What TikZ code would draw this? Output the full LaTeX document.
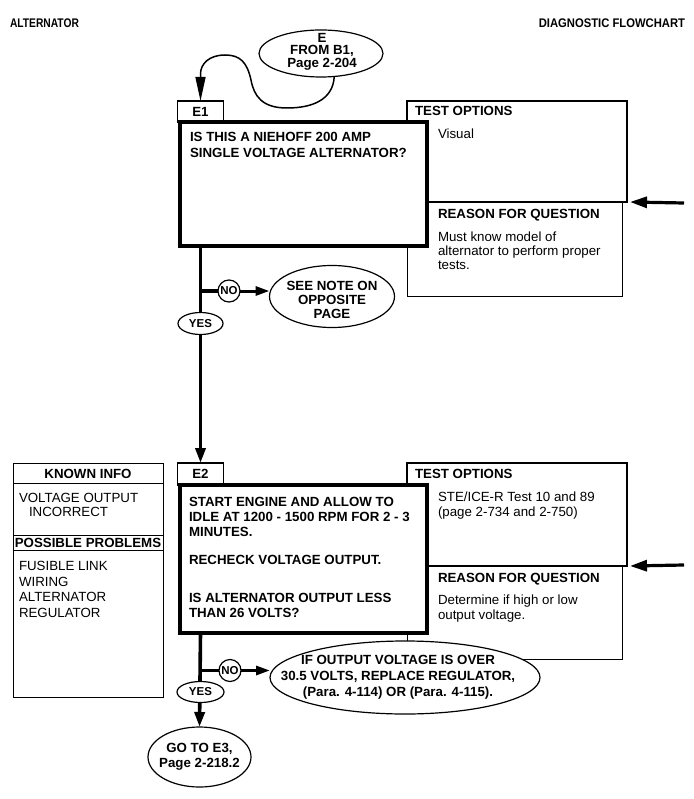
\documentclass[tikz,border=0pt]{standalone}
\usepackage{fontspec}
\setmainfont{Liberation Sans}
\usetikzlibrary{shapes.geometric,arrows.meta,calc,backgrounds}
\begin{document}
\begin{tikzpicture}[x=1pt,y=-1pt,
  every node/.style={inner sep=0pt,outer sep=0pt},
  txtbf/.style={font=\fontsize{13.3}{15}\selectfont\bfseries},
  txtrm/.style={font=\fontsize{13.3}{15}\selectfont},
  smallbf/.style={font=\fontsize{11.5}{13}\selectfont\bfseries},
  hdr/.style={font=\fontsize{12.5}{14}\selectfont\bfseries},
  tabbox/.style={draw,rectangle,line width=1.1pt,anchor=north west,fill=white},
  qbox/.style={draw,rectangle,line width=3.6pt,anchor=north west,fill=white},
  tbox/.style={draw,rectangle,line width=2.6pt,anchor=north west},
  rbox/.style={draw,rectangle,line width=0.9pt,anchor=north west},
  kbox/.style={draw,rectangle,line width=0.9pt,anchor=north west},
  ell/.style={draw,ellipse,line width=1.2pt,fill=white},
  yesell/.style={draw,ellipse,line width=1.2pt,fill=white,minimum width=45pt,minimum height=22pt,smallbf},
  nocirc/.style={draw,circle,line width=1.2pt,fill=white,minimum size=22pt,smallbf},
  flow/.style={line width=3.6pt},
  flowarr/.style={line width=3.6pt,-{Triangle[length=15pt,width=10pt]}},
  noarr/.style={line width=3pt,-{Triangle[length=14pt,width=9pt]}},
  inarr/.style={line width=3.2pt,-{Triangle[length=17pt,width=11pt]}},
  curvearr/.style={line width=1.5pt,-{Triangle[length=24pt,width=10pt]}},
  rule/.style={line width=0.9pt}
]
\useasboundingbox (0,0) rectangle (693,799);

% header
\node[hdr,anchor=base west] (hl) at (10,28) {\scalebox{0.82}[1]{ALTERNATOR}};
\node[hdr,anchor=base east] (hr) at (685,28) {\scalebox{0.9}[1]{DIAGNOSTIC FLOWCHART}};

% entry ellipse
\node[ell,minimum width=124pt,minimum height=47pt] (Eell) at (321,53.5) {};
\node[align=center,font=\fontsize{13.3}{12.5}\selectfont\bfseries] (Etxt) at (322,51.5) {E\\FROM B1,\\Page 2-204};

% ---------- E1 ----------
\node[tbox,minimum width=220pt,minimum height=101pt] (T1) at (407,101) {};
\node[rbox,minimum width=215pt,minimum height=94pt] (R1) at (407,202) {};
\node[tabbox,minimum width=46pt,minimum height=21pt] (E1tab) at (177.5,101) {};
\node[qbox,minimum width=247pt,minimum height=124pt] (E1box) at (180,122) {};
\node[txtbf] (E1lab) at (E1tab) {E1};
\node[txtbf,anchor=north west,align=left,font=\fontsize{13.3}{16}\selectfont\bfseries] (E1q) at (190,132.5)
  {IS THIS A NIEHOFF 200 AMP\\SINGLE VOLTAGE ALTERNATOR?};
\node[txtbf,anchor=base west] (T1h) at (415,116) {TEST OPTIONS};
\node[txtrm,anchor=base west] (T1t) at (438,138.5) {Visual};
\node[txtbf,anchor=base west] (R1h) at (438,219) {REASON FOR QUESTION};
\node[anchor=north west,align=left,font=\fontsize{13.3}{13.7}\selectfont] (R1t) at (438,232)
  {Must know model of\\alternator to perform proper\\tests.};

\node[yesell] (YES1) at (200.5,323.5) {YES};
\node[nocirc] (NO1) at (229,291) {NO};
\node[ell,minimum width=125pt,minimum height=62pt] (SEE) at (332,296.5) {};
\node[align=center,font=\fontsize{13.3}{14}\selectfont\bfseries] (SEEt) at (332,300) {SEE NOTE ON\\OPPOSITE\\PAGE};

% ---------- E2 ----------
\node[kbox,minimum width=150pt,minimum height=234pt] (KI) at (13,463) {};
\draw[rule] ($(KI.north west)+(0,20)$) -- ($(KI.north east)+(0,20)$);
\draw[rule] ($(KI.north west)+(0,72)$) -- ($(KI.north east)+(0,72)$);
\draw[rule] ($(KI.north west)+(0,87)$) -- ($(KI.north east)+(0,87)$);
\node[txtbf,anchor=base] (KIh) at (88,478.8) {KNOWN INFO};
\node[anchor=north west,align=left,font=\fontsize{13.3}{14}\selectfont] (KIt) at (19,493.2)
  {VOLTAGE OUTPUT\\\hspace*{10pt}INCORRECT};
\node[txtbf,anchor=base] (PPh) at (88,547.6) {POSSIBLE PROBLEMS};
\node[anchor=north west,align=left,font=\fontsize{13.3}{15.6}\selectfont] (PPt) at (19,561.2)
  {FUSIBLE LINK\\WIRING\\ALTERNATOR\\REGULATOR};

\node[tbox,minimum width=220pt,minimum height=103pt] (T2) at (407,463) {};
\node[rbox,minimum width=215pt,minimum height=93pt] (R2) at (407,566) {};
\node[tabbox,minimum width=46pt,minimum height=22pt] (E2tab) at (177.5,463) {};
\node[qbox,minimum width=247pt,minimum height=148pt] (E2box) at (180,485) {};
\node[txtbf] (E2lab) at (E2tab) {E2};
\node[txtbf,anchor=north west,align=left] (E2q) at (189,497.5)
  {START ENGINE AND ALLOW TO\\IDLE AT 1200 - 1500 RPM FOR 2 - 3\\MINUTES.\\[13pt]RECHECK VOLTAGE OUTPUT.\\[23pt]IS ALTERNATOR OUTPUT LESS\\THAN 26 VOLTS?};
\node[txtbf,anchor=base west] (T2h) at (415,478) {TEST OPTIONS};
\node[txtrm,anchor=north west,align=left] (T2t) at (438,492.2)
  {STE/ICE-R Test 10 and 89\\(page 2-734 and 2-750)};
\node[txtbf,anchor=base west] (R2h) at (438,582) {REASON FOR QUESTION};
\node[txtrm,anchor=north west,align=left] (R2t) at (438,595.2)
  {Determine if high or low\\output voltage.};

\node[yesell,minimum width=47pt,minimum height=21pt] (YES2) at (200.5,692) {YES};
\node[nocirc] (NO2) at (230,670.5) {NO};
\node[ell,minimum width=270pt,minimum height=73pt] (BIG) at (405,677.5) {};
\node[align=center,font=\fontsize{13.3}{16}\selectfont\bfseries] (BIGt) at (398,677.5)
  {IF OUTPUT VOLTAGE IS OVER\\30.5 VOLTS, REPLACE REGULATOR,\\(Para. 4-114) OR (Para. 4-115).};
\node[ell,minimum width=103pt,minimum height=60pt] (GO) at (199.5,757) {};
\node[align=center,font=\fontsize{13.3}{15}\selectfont\bfseries] (GOt) at (199.5,757)
  {GO TO E3,\\Page 2-218.2};

% incoming arrows
\coordinate (in1) at (684,203);
\coordinate (in2) at (684,565);

% ---------- connectors ----------
\begin{pgfonlayer}{background}
\draw[curvearr] (Eell.-60) .. controls (333,100) and (312,108) .. (287,108)
  .. controls (262,108) and (254,96) .. (251,80)
  .. controls (247,62) and (240,55) .. (225,55)
  .. controls (209,55) and (200.5,64) .. (200.5,74) -- (E1tab.north);
\draw[flowarr] (YES1 |- E1box.south) -- (E2tab.north);
\draw[flow] (YES1 |- NO1) -- (NO1.west);
\draw[noarr] (NO1.east) -- (NO1.east -| SEE.west);
\draw[flowarr] (YES2 |- E2box.south) -- (GO.north);
\draw[flow] (YES2 |- NO2) -- (NO2.west);
\draw[noarr] (NO2.east) -- (NO2.east -| BIG.west);
\draw[inarr] (in1) -- ($(T1.south east)+(3,0)$);
\draw[inarr] (in2) -- ($(T2.south east)+(3,0)$);
\end{pgfonlayer}
\end{tikzpicture}
\end{document}
